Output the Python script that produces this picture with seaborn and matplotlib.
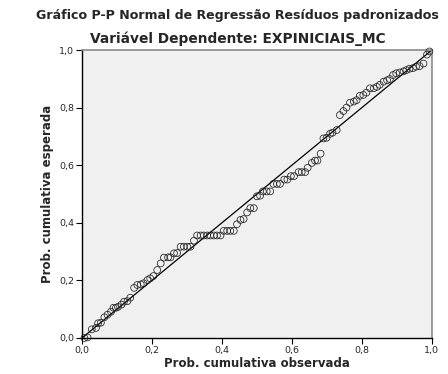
import matplotlib
matplotlib.use("Agg")
import matplotlib.pyplot as plt
import seaborn as sns
import pandas as pd
from matplotlib.ticker import FuncFormatter

observed = [0.007, 0.016, 0.028, 0.040, 0.046, 0.054, 0.064, 0.073, 0.083, 0.090,
            0.097, 0.103, 0.113, 0.120, 0.130, 0.138, 0.149, 0.158, 0.168, 0.176,
            0.187, 0.195, 0.204, 0.215, 0.225, 0.234, 0.246, 0.253, 0.263, 0.272,
            0.282, 0.291, 0.301, 0.310, 0.320, 0.329, 0.339, 0.348, 0.358, 0.367,
            0.377, 0.386, 0.396, 0.405, 0.415, 0.424, 0.434, 0.443, 0.453, 0.462,
            0.472, 0.481, 0.491, 0.500, 0.509, 0.517, 0.528, 0.538, 0.547, 0.557,
            0.566, 0.578, 0.587, 0.597, 0.606, 0.619, 0.628, 0.638, 0.645, 0.657,
            0.666, 0.673, 0.682, 0.690, 0.699, 0.709, 0.716, 0.728, 0.737, 0.747,
            0.756, 0.766, 0.777, 0.785, 0.794, 0.804, 0.813, 0.823, 0.834, 0.843,
            0.851, 0.862, 0.872, 0.880, 0.889, 0.898, 0.908, 0.919, 0.927, 0.936,
            0.946, 0.955, 0.965, 0.976, 0.986, 0.993]
expected = [0.000, 0.002, 0.030, 0.035, 0.051, 0.053, 0.072, 0.081, 0.091, 0.105,
            0.105, 0.108, 0.116, 0.126, 0.128, 0.140, 0.174, 0.184, 0.186, 0.190,
            0.201, 0.207, 0.215, 0.236, 0.259, 0.279, 0.280, 0.280, 0.294, 0.295,
            0.317, 0.317, 0.317, 0.317, 0.338, 0.356, 0.356, 0.356, 0.356, 0.356,
            0.356, 0.356, 0.356, 0.372, 0.372, 0.372, 0.372, 0.395, 0.410, 0.413,
            0.436, 0.451, 0.451, 0.492, 0.494, 0.509, 0.509, 0.509, 0.535, 0.535,
            0.535, 0.550, 0.550, 0.562, 0.562, 0.576, 0.576, 0.576, 0.591, 0.608,
            0.616, 0.616, 0.640, 0.693, 0.695, 0.709, 0.713, 0.722, 0.774, 0.788,
            0.800, 0.817, 0.821, 0.826, 0.841, 0.844, 0.852, 0.867, 0.867, 0.872,
            0.879, 0.890, 0.895, 0.899, 0.913, 0.919, 0.922, 0.926, 0.930, 0.935,
            0.937, 0.942, 0.944, 0.953, 0.984, 0.995]
ticks = [0.0, 0.2, 0.4, 0.6, 0.8, 1.0]

title = "Gráfico P-P Normal de Regressão Resíduos padronizados"
subtitle = "Variável Dependente: EXPINICIAIS_MC"
xlabel = "Prob. cumulativa observada"
ylabel = "Prob. cumulativa esperada"

df = pd.DataFrame({"obs": observed, "exp": expected})

sns.set_theme(style="white")
plt.rcParams['font.family'] = ['DejaVu Sans']

fig = plt.figure(figsize=(4.48, 3.74), dpi=100)
ax = fig.add_axes([0.183, 0.0963, 0.781, 0.770])
ax.set_facecolor("#f0f0f0")

ax.axline((0, 0), slope=1, color="black", lw=0.9, zorder=2)
sns.scatterplot(data=df, x="obs", y="exp", ax=ax, marker="o", s=24,
                facecolor="none", edgecolor="#222222", linewidth=0.55, zorder=3,
                clip_on=False)

ax.set_xlim(0, 1)
ax.set_ylim(0, 1)
ax.set_xticks(ticks)
ax.set_yticks(ticks)
fmt = FuncFormatter(lambda v, p: f"{v:.1f}".replace(".", ","))
ax.xaxis.set_major_formatter(fmt)
ax.yaxis.set_major_formatter(fmt)
ax.tick_params(axis="both", which="major", direction="out", length=4, width=0.8,
               labelsize=6.8, pad=1.5, color="black", bottom=True, left=True)

for side in ["left", "bottom"]:
    ax.spines[side].set_color("black")
    ax.spines[side].set_linewidth(1.0)
for side in ["top", "right"]:
    ax.spines[side].set_color("#8a8a8a")
    ax.spines[side].set_linewidth(1.2)

ax.set_xlabel(xlabel, fontsize=8.5, fontweight="bold", labelpad=2)
ax.set_ylabel(ylabel, fontsize=8.5, fontweight="bold", labelpad=4)

fig.text(0.53, 0.958, title, ha="center", va="center", fontsize=9.1, fontweight="bold")
fig.text(0.53, 0.897, subtitle, ha="center", va="center", fontsize=9.9, fontweight="bold")

fig.savefig("out.png", dpi=100)
